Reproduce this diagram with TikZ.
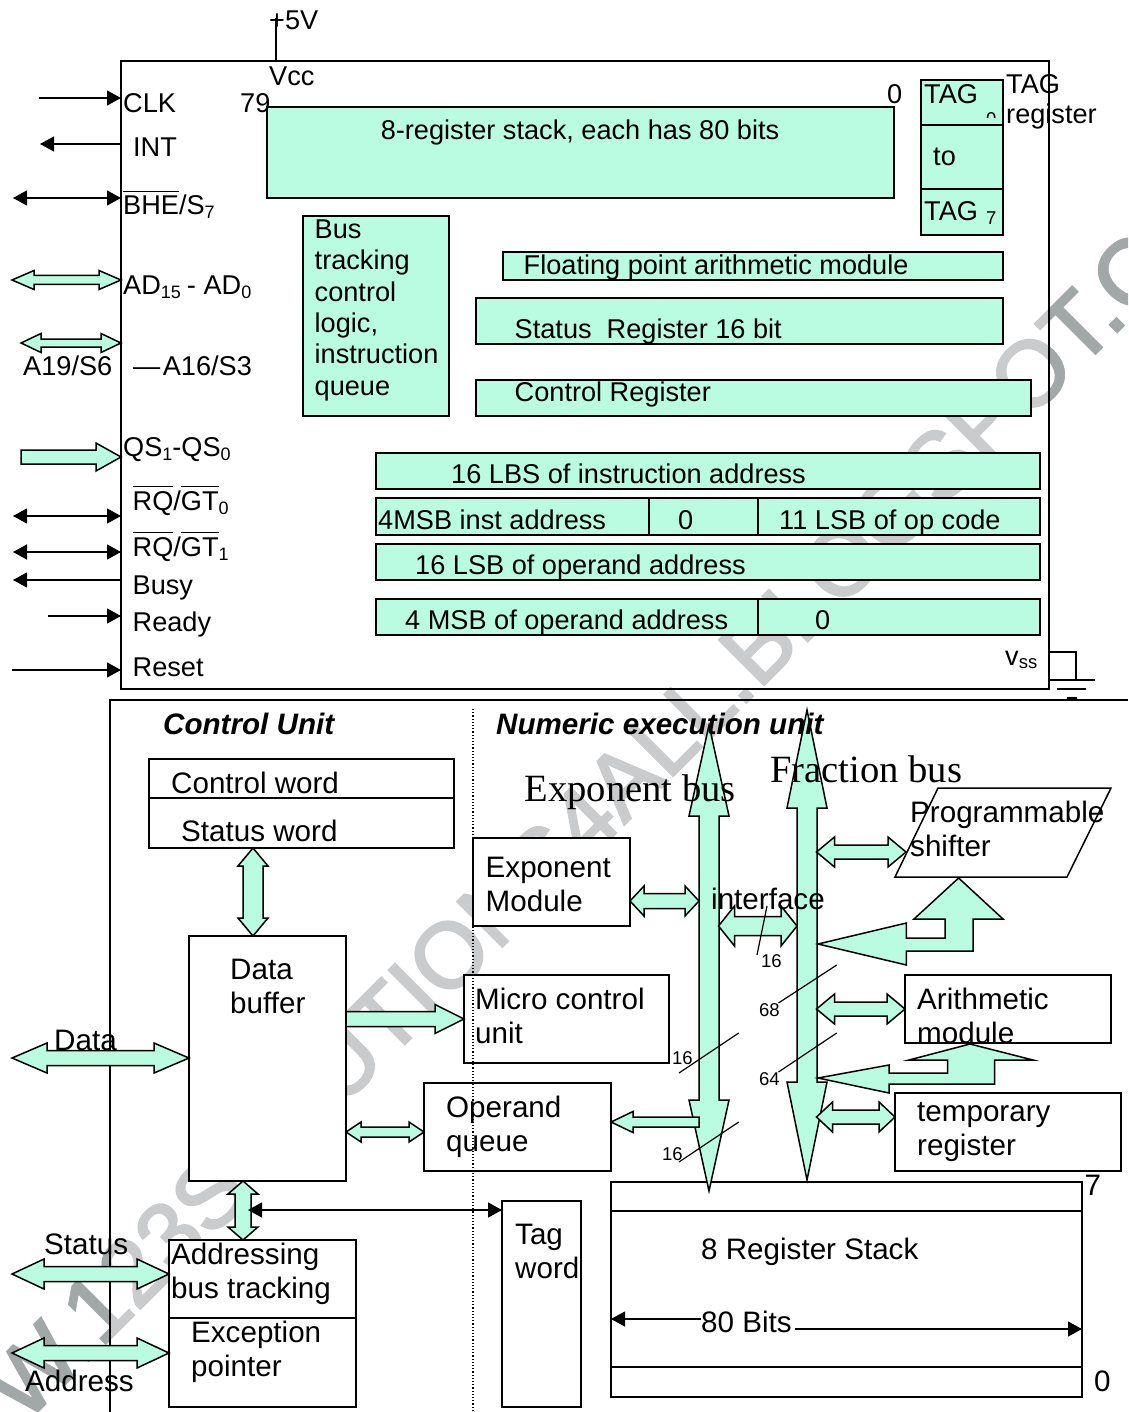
\documentclass[tikz,border=0pt]{standalone}
\usepackage{fontspec}
\setmainfont{Liberation Sans}
\newfontfamily\timesfont{Liberation Serif}
\newfontfamily\stampfont{Liberation Sans}[FakeBold=2.5]
\usetikzlibrary{arrows.meta,calc,positioning}
\definecolor{mint}{HTML}{B9FCE1}
\definecolor{stamp}{HTML}{CACBCC}
\definecolor{stampdark}{HTML}{A2A7A7}
\newcommand{\subs}[1]{\raisebox{-4pt}{\fontsize{18}{18}\selectfont #1}}
\newcommand{\barred}[1]{\leavevmode\vbox{\hrule height .9pt\kern 4pt\hbox{#1}}}
\newcommand{\dblarrow}[5]{\draw[block] (#1)
  -- ($(#1)!#5!(#2)!#4!90:(#2)$) -- ($(#1)!#5!(#2)!#3!90:(#2)$)
  -- ($(#2)!#5!(#1)!#3!-90:(#1)$) -- ($(#2)!#5!(#1)!#4!-90:(#1)$)
  -- (#2)
  -- ($(#2)!#5!(#1)!#4!90:(#1)$) -- ($(#2)!#5!(#1)!#3!90:(#1)$)
  -- ($(#1)!#5!(#2)!#3!-90:(#2)$) -- ($(#1)!#5!(#2)!#4!-90:(#2)$)
  -- cycle;}
\newcommand{\onearrow}[5]{\draw[block] ($(#1)!#3!90:(#2)$)
  -- ($(#2)!#5!(#1)!#3!-90:(#1)$) -- ($(#2)!#5!(#1)!#4!-90:(#1)$)
  -- (#2)
  -- ($(#2)!#5!(#1)!#4!90:(#1)$) -- ($(#2)!#5!(#1)!#3!90:(#1)$)
  -- ($(#1)!#3!-90:(#2)$) -- cycle;}
\begin{document}
\begin{tikzpicture}[x=1pt,y=-1pt,line join=miter]
\tikzstyle{regbox}=[draw=black,line width=1.6pt,fill=mint,anchor=north west,inner sep=0pt,outer sep=0pt]
\tikzstyle{unitbox}=[draw=black,line width=1.6pt,fill=white,anchor=north west,inner sep=0pt,outer sep=0pt]
\tikzstyle{block}=[draw=black,line width=1.5pt,fill=mint]
\tikzstyle{pin}=[{Triangle[length=14pt,width=15pt]}-{Triangle[length=14pt,width=15pt]},line width=1.2pt]
\tikzstyle{pinout}=[-{Triangle[length=14pt,width=15pt]},line width=1.2pt]
\tikzstyle{txt}=[anchor=base west,inner sep=0pt,align=left,font=\fontsize{27.15}{30}\selectfont]
\tikzstyle{bustxtstyle}=[anchor=base west,inner sep=0pt,align=left,font=\fontsize{27.15}{31.3}\selectfont]
\tikzstyle{big}=[anchor=base west,inner sep=0pt,align=left,font=\fontsize{29.6}{34}\selectfont]
\tikzstyle{small}=[anchor=base west,inner sep=0pt,font=\fontsize{18.5}{20}\selectfont]
\tikzstyle{serifbig}=[anchor=base west,inner sep=0pt,font=\timesfont\fontsize{38.6}{40}\selectfont]
\tikzstyle{head}=[anchor=base west,inner sep=0pt,font=\bfseries\itshape\fontsize{29.6}{34}\selectfont]
\tikzstyle{tick}=[line width=1.2pt]
\tikzstyle{stampnode}=[rotate=45,font=\stampfont\fontsize{92.5}{100}\selectfont]

\clip (0,0) rectangle (1128,1412);
\node[stampnode,text=stamp] (stampmark) at (569,835) {WWW.123SOLUTIONS4ALL.BLOGSPOT.COM};
\begin{scope}
\clip (0,0) rectangle (110,1412) (1049,0) rectangle (1128,700);
\node[stampnode,text=stampdark] (stampedge) at (569,835) {WWW.123SOLUTIONS4ALL.BLOGSPOT.COM};
\end{scope}

\node[draw=black,line width=1.8pt,minimum width=928pt,minimum height=628pt,anchor=north west,inner sep=0pt,outer sep=0pt] (chip) at (121,61) {};
\coordinate (vcctop) at (276,18);
\draw[line width=1.4pt] (vcctop) -- (vcctop |- chip.north);

\node[regbox,minimum width=627pt,minimum height=91pt] (stack) at (267,107) {};
\node[regbox,minimum width=82pt,minimum height=45pt] (tag0) at (921,80) {};
\begin{scope}
\clip (980,100) rectangle (1000,118);
\node[small] (tag0sub) at (986,125.5) {0};
\end{scope}
\node[regbox,minimum width=82pt,minimum height=64pt] (tagmid) at (921,125) {};
\node[regbox,minimum width=82pt,minimum height=46pt] (tag7) at (921,189) {};
\node[regbox,minimum width=146pt,minimum height=200pt] (bustrack) at (303,216) {};
\node[regbox,minimum width=500pt,minimum height=28pt] (fparith) at (503,252) {};
\node[regbox,minimum width=527pt,minimum height=46pt] (statusreg) at (476,298) {};
\node[regbox,minimum width=555pt,minimum height=36pt] (controlreg) at (476,380) {};
\node[regbox,minimum width=664pt,minimum height=36pt] (lbsinst) at (376,453) {};
\node[regbox,minimum width=273pt,minimum height=37pt] (msbinst) at (376,498) {};
\node[regbox,minimum width=109pt,minimum height=37pt] (zeroinst) at (649,498) {};
\node[regbox,minimum width=282pt,minimum height=37pt] (lsbop) at (758,498) {};
\node[regbox,minimum width=664pt,minimum height=36pt] (lsboper) at (376,544) {};
\node[regbox,minimum width=382pt,minimum height=36pt] (msboper) at (376,599) {};
\node[regbox,minimum width=282pt,minimum height=36pt] (zerooper) at (758,599) {};

\coordinate (clkw) at (39,98);
\coordinate (intw) at (40,144);
\coordinate (bhew) at (13,198);
\coordinate (adw) at (12,280);
\coordinate (aaw) at (21,343);
\coordinate (qsw) at (21,457);
\coordinate (rqaw) at (13,516);
\coordinate (rqbw) at (13,552);
\coordinate (busyw) at (13,580);
\coordinate (readyw) at (48,616);
\coordinate (resetw) at (12,670);
\draw[pinout] (clkw) -- (chip.west |- clkw);
\draw[pinout] (chip.west |- intw) -- (intw);
\draw[pin] (bhew) -- (chip.west |- bhew);
\dblarrow{adw}{chip.west |- adw}{4.5pt}{9.5pt}{22pt}
\dblarrow{aaw}{chip.west |- aaw}{4pt}{9.5pt}{20pt}
\onearrow{qsw}{chip.west |- qsw}{7pt}{14pt}{25pt}
\draw[pin] (rqaw) -- (chip.west |- rqaw);
\draw[pin] (rqbw) -- (chip.west |- rqbw);
\draw[pinout] (chip.west |- busyw) -- (busyw);
\draw[pinout] (readyw) -- (chip.west |- readyw);
\draw[pinout] (resetw) -- (chip.west |- resetw);

\coordinate (gndtop) at (1076,652);
\coordinate (gndbar) at (1076,680);
\draw[line width=1.4pt] (chip.east |- gndtop) -- (gndtop) -- (gndbar);
\coordinate (gndal) at (1049,680);
\coordinate (gndar) at (1095,680);
\coordinate (gndbl) at (1057,689);
\coordinate (gndbr) at (1086,689);
\coordinate (gndcl) at (1067,698);
\coordinate (gndcr) at (1077,698);
\draw[line width=1.4pt] (gndal) -- (gndar);
\draw[line width=1.4pt] (gndbl) -- (gndbr);
\draw[line width=2pt] (gndcl) -- (gndcr);

\coordinate (framebl) at (110,1412);
\coordinate (frametl) at (110,700);
\coordinate (frametr) at (1128,700);
\draw[line width=1.4pt] (framebl) -- (frametl) -- (frametr);

\node[unitbox,minimum width=305pt,minimum height=39pt] (ctrlword) at (149,759) {};
\node[unitbox,minimum width=305pt,minimum height=50pt] (statword) at (149,798) {};
\node[unitbox,minimum width=157pt,minimum height=245pt] (databuf) at (189,936) {};
\node[unitbox,minimum width=157pt,minimum height=88pt] (expmod) at (473,838) {};
\node[unitbox,minimum width=205pt,minimum height=88pt] (microunit) at (464,975) {};
\node[unitbox,minimum width=187pt,minimum height=88pt] (opqueue) at (424,1083) {};
\node[unitbox,minimum width=187pt,minimum height=78pt] (addrtrack) at (169,1240) {};
\node[unitbox,minimum width=187pt,minimum height=89pt] (excptr) at (169,1318) {};
\node[unitbox,minimum width=79pt,minimum height=206pt] (tagword) at (502,1201) {};
\node[unitbox,minimum width=471pt,minimum height=29pt] (regtop) at (611,1182) {};
\node[unitbox,minimum width=471pt,minimum height=156pt] (regmid) at (611,1211) {};
\node[unitbox,minimum width=471pt,minimum height=30pt] (regbot) at (611,1367) {};
\node[unitbox,minimum width=206pt,minimum height=68pt] (arith) at (905,975) {};
\node[unitbox,minimum width=226pt,minimum height=78pt] (tempreg) at (895,1093) {};
\coordinate (shifta) at (938,788);
\coordinate (shiftb) at (1111,788);
\coordinate (shiftc) at (1067,877);
\coordinate (shiftd) at (895,877);
\draw[line width=1.5pt,fill=white] (shifta) -- (shiftb) -- (shiftc) -- (shiftd) -- cycle;

\coordinate (ebtop) at (709,725);
\coordinate (ebbot) at (709,1191);
\coordinate (fbtop) at (807,710);
\coordinate (fbbot) at (807,1180);
\dblarrow{ebtop}{ebbot}{10pt}{20pt}{91pt}
\dblarrow{fbtop}{fbbot}{10pt}{20pt}{98pt}

\coordinate (databus) at (253,848);
\dblarrow{statword.south -| databus}{databuf.north -| databus}{10pt}{15pt}{18pt}
\coordinate (dataw) at (12,1058);
\dblarrow{dataw}{databuf.west |- dataw}{7.5pt}{15pt}{35pt}
\coordinate (statw) at (12,1274);
\dblarrow{statw}{addrtrack.west |- statw}{7.5pt}{15pt}{32pt}
\coordinate (addrw) at (12,1353);
\dblarrow{addrw}{excptr.west |- addrw}{7.5pt}{15pt}{32pt}
\coordinate (buftrack) at (243,1181);
\dblarrow{buftrack}{addrtrack.north -| buftrack}{8pt}{15pt}{13pt}
\coordinate (bufmicro) at (346,1019);
\onearrow{bufmicro}{microunit.west |- bufmicro}{7.5pt}{14.5pt}{29pt}
\coordinate (bufqueue) at (346,1132);
\dblarrow{bufqueue}{opqueue.west |- bufqueue}{5pt}{10pt}{15pt}
\coordinate (trackline) at (248,1210);
\draw[pin] (trackline) -- (tagword.west |- trackline);

\coordinate (expbus) at (699,901);
\dblarrow{expmod.east |- expbus}{expbus}{7.5pt}{15pt}{14pt}
\coordinate (ifacel) at (718.5,926);
\coordinate (ifacer) at (797,926);
\dblarrow{ifacel}{ifacer}{9.5pt}{20pt}{16pt}
\coordinate (shiftbus) at (816.5,852);
\coordinate (shiftin) at (906,852);
\dblarrow{shiftbus}{shiftin}{7pt}{15pt}{18pt}
\coordinate (arithbus) at (816.5,1009);
\dblarrow{arithbus}{arith.west |- arithbus}{7pt}{15pt}{18pt}
\coordinate (tempbus) at (816.5,1117);
\dblarrow{tempbus}{tempreg.west |- tempbus}{7pt}{15pt}{16pt}
\coordinate (oppbus) at (699,1122);
\onearrow{oppbus}{opqueue.east |- oppbus}{5pt}{10.5pt}{22pt}

\draw[block] (818,944) -- (906.4,923) -- (906.4,938) -- (945,938) -- (945,919) -- (914,919) -- (958.6,878) -- (1003,919) -- (973,919) -- (973,951) -- (906.4,951) -- (906.4,965) -- cycle;
\draw[block] (818,1078) -- (889,1065) -- (889,1073) -- (947.5,1073) -- (947.5,1060) -- (909,1060) -- (970,1044) -- (1033,1060) -- (994.6,1060) -- (994.6,1084) -- (889,1084) -- (889,1093) -- cycle;

\foreach \nm/\xa/\ya/\xb/\yb in {ticka/767/906/757/955,tickb/836.7/965/778.5/1003,tickc/836.7/1033/778.5/1072,tickd/738.7/1033/679/1073,ticke/738.7/1122/679/1162}{
  \coordinate (\nm s) at (\xa,\ya);
  \coordinate (\nm e) at (\xb,\yb);
  \draw[tick] (\nm s) -- (\nm e);
}

\coordinate (divtop) at (473,709);
\coordinate (divbot) at (473,1412);
\draw[dotted,line width=1.2pt] (divtop) -- (divbot);

\node[txt] (vplus) at (269,30) {+5V};
\node[txt] (vcc) at (269,86) {Vcc};
\node[txt] (clk) at (123,113) {CLK};
\node[txt] (seventynine) at (240,113) {79};
\node[txt] (int) at (133,157) {INT};
\node[txt] (bhe) at (123,215) {\barred{BHE}/S\subs{7}};
\node[txt] (ad) at (123,294.5) {AD\subs{15}\kern-1.5pt{} - AD\subs{0}};
\node[txt] (aalow) at (23,375) {A19/S6};
\node[txt] (aahigh) at (133,375) {—\kern-5pt{} A16/S3};
\node[txt] (qs) at (123,456) {QS\subs{1}-QS\subs{0}};
\node[txt] (rqa) at (132.5,510) {\barred{RQ}/\barred{GT}\subs{0}};
\node[txt] (rqb) at (132.5,556) {\barred{RQ}/\barred{GT}\subs{1}};
\node[txt] (busy) at (132.5,594) {Busy};
\node[txt] (ready) at (132.5,631) {Ready};
\node[txt] (reset) at (132.5,676) {Reset};
\node[txt,anchor=base] (stacktxt) at (580,140) {8-register stack, each has 80 bits};
\node[txt] (zerotop) at (887,104) {0};
\node[txt] (tagfirst) at (924,104) {TAG};
\node[txt] (tagto) at (933,166) {to};
\node[txt] (taglast) at (924,221) {TAG};
\node[small] (taglastsub) at (986,225) {7};
\node[txt] (tagreg) at (1006,124) {TAG\\register};
\node[bustxtstyle] (bustxt) at (314.5,395) {Bus\\tracking\\control\\logic,\\instruction\\queue};
\node[txt] (fptxt) at (523.5,275) {Floating point arithmetic module};
\node[txt] (stattxt) at (514.5,338) {Status\ \ Register 16 bit};
\node[txt] (ctltxt) at (514.5,401) {Control Register};
\node[txt] (lbstxt) at (451,483) {16 LBS of instruction address};
\node[txt] (msbtxt) at (378,529) {4MSB inst address};
\node[txt] (zeroa) at (678,529) {0};
\node[txt] (lsbtxt) at (779,529) {11 LSB of op code};
\node[txt] (opertxt) at (415,574) {16 LSB of operand address};
\node[txt] (msbop) at (405,629) {4 MSB of operand address};
\node[txt] (zerob) at (815,629) {0};
\node[txt] (vss) at (1005,665) {v\raisebox{-3pt}{\fontsize{18.5}{18.5}\selectfont ss}};

\node[head] (ctlunit) at (163,734) {Control Unit};
\node[head] (numunit) at (496,734) {Numeric execution unit};
\node[serifbig] (expbusl) at (524.5,801) {Exponent bus};
\node[serifbig] (fracbusl) at (770,782) {Fraction bus};
\node[big] (ctrltxt) at (171,793) {Control word};
\node[big] (stattxtb) at (181,841) {Status word};
\node[big] (buftxt) at (230,1013) {Data\\buffer};
\node[big] (datal) at (54,1050) {Data};
\node[big] (statl) at (44,1254) {Status};
\node[big] (addrl) at (25,1391) {Address};
\node[big] (exptxt) at (485.5,911) {Exponent\\Module};
\node[big] (microtxt) at (475,1043) {Micro control\\unit};
\node[big] (opqtxt) at (446,1151) {Operand\\queue};
\node[big] (addrtxt) at (171,1298) {Addressing\\bus tracking};
\node[big] (exctxt) at (191,1376) {Exception\\pointer};
\node[big] (tagtxt) at (515,1278) {Tag\\word};
\node[big] (shifttxt) at (910,856) {Programmable\\shifter};
\node[big] (ifacetxt) at (711,909.5) {interface};
\node[big] (arithtxt) at (917,1043) {Arithmetic\\module};
\node[big] (temptxt) at (917,1155) {temporary\\register};
\node[big] (regtxt) at (701,1259) {8 Register Stack};
\node[big] (bitstxt) at (701,1332) {80 Bits};
\node[big] (seven) at (1084.5,1195) {7};
\node[big] (zeroc) at (1094,1391) {0};
\node[small] (sixteena) at (761,967) {16};
\node[small] (sixtyeight) at (759,1016) {68};
\node[small] (sixtyfour) at (759,1085) {64};
\node[small] (sixteenb) at (672,1064) {16};
\node[small] (sixteenc) at (662,1160) {16};

\coordinate (bitsl) at (701,1319);
\coordinate (bitsr) at (795,1329);
\draw[pinout] (bitsl) -- (regmid.west |- bitsl);
\draw[pinout] (bitsr) -- (regmid.east |- bitsr);

\useasboundingbox (0,0) rectangle (1128,1412);
\end{tikzpicture}
\end{document}
